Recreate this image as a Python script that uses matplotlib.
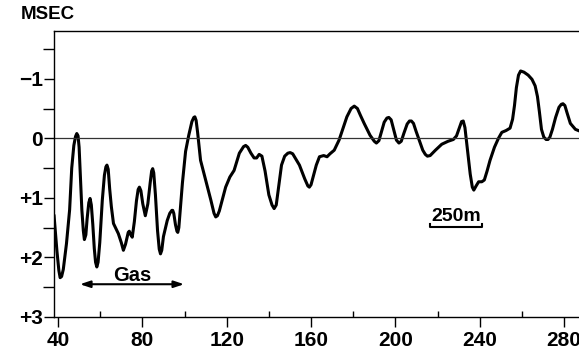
import matplotlib.pyplot as plt
from matplotlib.ticker import MultipleLocator, FixedLocator

plt.rcParams['font.family'] = ['Liberation Sans', 'DejaVu Sans']

# trace position (shot point) and time anomaly in msec (+ is down)
trace_x = [38.1, 39.5, 40.4, 41.0, 41.7, 42.5, 44.0, 45.5, 46.5, 47.5,
           48.3, 48.9, 49.5, 50.0, 50.5, 51.3, 52.0, 52.5, 53.2, 53.8,
           54.6, 55.2, 55.8, 56.5, 57.2, 57.8, 58.4, 59.0, 59.8, 61.0,
           62.0, 62.7, 63.2, 63.8, 64.5, 65.3, 66.3, 68.6, 70.0, 71.0,
           72.0, 73.3, 73.8, 74.5, 75.2, 76.2, 77.2, 78.0, 78.6, 79.3,
           80.2, 81.4, 82.6, 83.7, 84.4, 84.9, 85.4, 86.2, 87.2, 88.0,
           88.6, 89.2, 90.0, 91.8, 93.0, 94.0, 94.4, 94.9, 95.7, 96.4,
           96.8, 97.3, 98.0, 99.0, 100.5, 102.0, 103.5, 104.4, 104.9, 105.5,
           106.2, 107.6, 110.0, 112.5, 114.0, 114.8, 115.6, 116.5, 119.5, 121.5,
           123.5, 126.0, 128.0, 129.0, 130.0, 131.5, 133.0, 134.2, 135.4, 136.7,
           138.2, 140.0, 141.5, 142.5, 143.5, 144.7, 146.0, 147.5, 149.0, 150.1,
           151.3, 152.5, 154.5, 157.0, 158.5, 159.2, 160.0, 161.0, 162.5, 164.0,
           166.0, 167.6, 169.0, 171.0, 173.3, 175.0, 177.0, 179.0, 180.5, 182.0,
           183.5, 185.2, 188.0, 190.0, 191.0, 192.2, 193.5, 194.7, 196.0, 196.9,
           198.0, 199.2, 200.5, 201.7, 202.8, 204.0, 205.6, 206.7, 207.6, 208.6,
           209.8, 211.5, 213.0, 214.2, 215.2, 216.5, 219.0, 222.0, 225.0, 227.5,
           229.0, 230.3, 231.4, 232.2, 233.0, 234.2, 235.5, 236.5, 237.2, 238.3,
           239.5, 241.0, 242.2, 243.5, 244.9, 247.0, 248.9, 250.5, 252.5, 254.4,
           255.6, 256.5, 257.4, 258.4, 259.4, 261.0, 263.0, 264.8, 266.3, 267.4,
           268.3, 269.3, 270.4, 271.5, 272.4, 273.3, 274.5, 276.0, 277.6, 278.7,
           279.5, 280.4, 281.5, 283.0, 285.4, 287.5]
trace_t = [1.29, 1.90, 2.22, 2.34, 2.32, 2.20, 1.77, 1.20, 0.50, 0.12,
           -0.03, -0.08, -0.04, 0.15, 0.55, 1.20, 1.55, 1.70, 1.62, 1.35,
           1.08, 1.01, 1.12, 1.45, 1.85, 2.08, 2.16, 2.08, 1.75, 1.04,
           0.62, 0.48, 0.45, 0.52, 0.85, 1.15, 1.43, 1.60, 1.75, 1.88,
           1.78, 1.58, 1.56, 1.62, 1.66, 1.40, 1.05, 0.86, 0.82, 0.88,
           1.10, 1.30, 1.10, 0.75, 0.55, 0.51, 0.58, 0.95, 1.55, 1.86,
           1.94, 1.88, 1.65, 1.38, 1.26, 1.21, 1.21, 1.26, 1.45, 1.56,
           1.58, 1.50, 1.20, 0.75, 0.22, -0.05, -0.28, -0.35, -0.36, -0.30,
           -0.10, 0.37, 0.70, 1.04, 1.26, 1.32, 1.30, 1.22, 0.82, 0.65,
           0.54, 0.25, 0.14, 0.12, 0.15, 0.25, 0.33, 0.33, 0.27, 0.30,
           0.55, 0.95, 1.12, 1.18, 1.12, 0.80, 0.45, 0.30, 0.25, 0.24,
           0.26, 0.33, 0.45, 0.68, 0.80, 0.82, 0.78, 0.65, 0.45, 0.31,
           0.29, 0.31, 0.26, 0.20, 0.03, -0.15, -0.36, -0.50, -0.54, -0.50,
           -0.38, -0.25, -0.05, 0.05, 0.08, 0.04, -0.12, -0.27, -0.34, -0.35,
           -0.31, -0.15, 0.03, 0.08, 0.05, -0.08, -0.24, -0.29, -0.29, -0.25,
           -0.12, 0.05, 0.20, 0.27, 0.30, 0.29, 0.20, 0.10, 0.05, 0.02,
           -0.04, -0.17, -0.28, -0.29, -0.18, 0.20, 0.60, 0.82, 0.87, 0.80,
           0.73, 0.73, 0.70, 0.55, 0.37, 0.15, 0.00, -0.10, -0.13, -0.17,
           -0.32, -0.55, -0.85, -1.06, -1.13, -1.11, -1.06, -0.99, -0.88, -0.70,
           -0.45, -0.15, -0.02, 0.02, 0.02, -0.02, -0.15, -0.35, -0.52, -0.57,
           -0.58, -0.55, -0.42, -0.25, -0.15, -0.12]

x_ticks = [40, 80, 120, 160, 200, 240, 280]
y_ticks = [-1, 0, 1, 2, 3]
y_labels = ['\u22121', '0', '+1', '+2', '+3']

gas_span = [50.4, 99.8]
scale_span = [216.5, 241.1]

fig = plt.figure(figsize=(5.79, 3.53), dpi=100)
ax = fig.add_axes([0.0933, 0.102, 0.9067, 0.810])

ax.plot(trace_x, trace_t, color='black', lw=2.2, solid_joinstyle='round',
        solid_capstyle='round')
ax.axhline(0, color='#333333', lw=0.9)

ax.set_xlim(38.1, 287.1)
ax.set_ylim(3.0, -1.8)

for s in ['left', 'bottom', 'top']:
    ax.spines[s].set_linewidth(1.0)
ax.spines['right'].set_visible(False)

ax.xaxis.set_major_locator(FixedLocator(x_ticks))
ax.xaxis.set_minor_locator(MultipleLocator(20))
ax.set_xticklabels([str(v) for v in x_ticks], fontsize=15, fontweight='bold')
ax.tick_params(axis='x', which='major', direction='out', length=7, width=1, pad=3)
ax.tick_params(axis='x', which='minor', direction='in', length=4, width=1)

ax.yaxis.set_major_locator(FixedLocator(y_ticks))
ax.yaxis.set_minor_locator(MultipleLocator(0.5))
ax.set_yticklabels(y_labels, fontsize=15, fontweight='bold')
ax.tick_params(axis='y', which='major', direction='out', length=7, width=1, pad=1)
ax.tick_params(axis='y', which='minor', direction='out', length=8, width=1)

fig.text(0.036, 0.935, 'MSEC', fontsize=13.5, fontweight='bold', ha='left', va='bottom')

# gas zone
ax.annotate('', xy=(gas_span[0], 2.45), xytext=(gas_span[1], 2.45),
            arrowprops=dict(arrowstyle='<|-|>,head_length=0.6,head_width=0.2',
                            color='black', lw=1.5, shrinkA=0, shrinkB=0))
ax.text(sum(gas_span) / 2, 2.40, 'Gas', fontsize=14.5, fontweight='bold',
        ha='center', va='baseline')

# horizontal scale bar
ax.plot([scale_span[0], scale_span[0], scale_span[1], scale_span[1]],
        [1.44, 1.49, 1.49, 1.44], color='black', lw=1.5)
ax.text(sum(scale_span) / 2, 1.39, '250m', fontsize=14, fontweight='bold',
        ha='center', va='baseline')

fig.savefig('out.png', dpi=100)
